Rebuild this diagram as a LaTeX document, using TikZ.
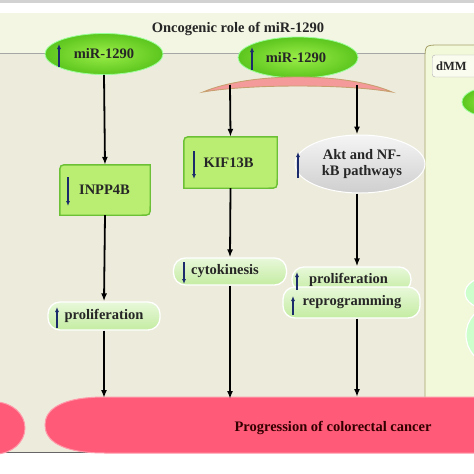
\documentclass[tikz,border=0pt]{standalone}
\usepackage{fontspec}
\setmainfont{Liberation Serif}
\usetikzlibrary{shapes.geometric,arrows.meta,calc}
\definecolor{beige}{HTML}{EDECDC}
\definecolor{headbg}{HTML}{F3F6E3}
\definecolor{rpanel}{HTML}{F2F8DA}
\definecolor{boxgreen}{HTML}{B9EE72}
\definecolor{boxedge}{HTML}{6CC036}
\definecolor{pinkbar}{HTML}{FF5A78}
\definecolor{pinkedge}{HTML}{FF9AAA}
\definecolor{navy}{HTML}{1A2A6A}
\definecolor{pilltop}{HTML}{E8F8DA}
\definecolor{pillbot}{HTML}{C4ECA2}
\definecolor{mirin}{HTML}{9CEE48}
\definecolor{mirout}{HTML}{5CC61E}
\definecolor{arcfill}{HTML}{F59A9A}
\definecolor{arcedge}{HTML}{C8A070}
\pgfdeclarelayer{back}
\pgfdeclarelayer{bg}
\pgfsetlayers{back,bg,main}
\begin{document}
\begin{tikzpicture}[x=1pt,y=-1pt,
  txt/.style={font=\bfseries\fontsize{14.5}{16}\selectfont, text=black!85},
  mirell/.style={ellipse, inner color=mirin, outer color=mirout, draw=white!60!green, line width=0.8pt, minimum width=118pt, minimum height=41pt, txt},
  pill/.style={rectangle, rounded corners=12pt, top color=pilltop, bottom color=pillbot, draw=white, line width=1.3pt, txt, inner sep=0pt},
  grayell/.style={ellipse, top color=gray!8, bottom color=gray!38, draw=white, line width=1pt, minimum width=130pt, minimum height=58pt, txt, align=center, inner sep=0pt},
  flow/.style={-{Latex[length=8pt,width=6pt]}, line width=1.8pt, black},
  updn/.style={-{Latex[length=5pt,width=4pt]}, line width=1.2pt, navy},
  boxfill/.style={fill=boxgreen, draw=boxedge, line width=1.4pt}
]
\useasboundingbox (0,0) rectangle (474,474);
\begin{pgfonlayer}{back}
\fill[white] (0,0) rectangle (474,474);
\fill[gray!35] (0,0) rectangle (474,3);
\fill[headbg] (0,13) rectangle (474,53);
\fill[beige] (0,53) rectangle (426,452);
\draw[gray!70, line width=0.8pt] (0,53) -- (430,53);
\draw[gray!80!black, line width=0.9pt] (0,452) -- (426,452);
\path[fill=rpanel, draw=olive!45!gray!80, line width=0.8pt] (474,45) -- (440,45) .. controls (425,45) .. (425,60) -- (425,452) -- (474,452);
\end{pgfonlayer}
\node[txt] (title) at (238,29) {Oncogenic role of miR-1290};

% right panel partial content
\begin{scope}
\clip (425,0) rectangle (474,474);
\node[draw=gray!60, fill=white!60!rpanel, rounded corners=3pt, minimum height=22pt, minimum width=60pt, anchor=west, inner sep=2pt] (dmm) at (432,66) {};
\node[font=\bfseries\fontsize{12.5}{14}\selectfont, text=black!85, anchor=west, inner sep=0pt] (dmmtxt) at (436,66) {dMM};
\node[mirell, minimum width=60pt, minimum height=30pt] (rell) at (492,102) {};
\node[ellipse, fill=green!20!white, draw=white, line width=1.2pt, minimum width=50pt, minimum height=33pt] (rp1) at (490,293) {};
\node[ellipse, fill=green!20!white, draw=white, line width=1.2pt, minimum width=50pt, minimum height=56pt] (rp2) at (491,335) {};
\end{scope}

% miR ellipses
\node[mirell] (mir1) at (104,54) {\hspace*{0pt}miR-1290};
\node[mirell, minimum width=120pt] (mir2) at (298,57.5) {\hspace*{-4pt}miR-1290};
\draw[updn] (59,67) -- (59,44);
\draw[updn] (252,70) -- (252,47);

% arc bracket
\path[fill=arcfill, draw=arcedge, line width=0.9pt]
  (203,92) .. controls (250,72) and (346,72) .. (392,92)
  .. controls (346,84) and (250,84) .. cycle;
\coordinate (arcL) at (230,85);
\coordinate (arcR) at (357,85);

% boxes
\node[txt, minimum width=90pt, minimum height=50pt] (inpp) at (105,190) {\hspace*{-1pt}INPP4B};
\node[txt, minimum width=93pt, minimum height=51pt] (kif) at (230.5,162.5) {\hspace*{-4pt}KIF13B};
\begin{pgfonlayer}{bg}
\foreach \n in {inpp,kif}{
  \path[boxfill] ($(\n.north west)+(0,9)$) .. controls (\n.north west) .. ($(\n.north west)+(9,0)$)
    -- (\n.north east) -- ($(\n.south east)+(0,-9)$) .. controls (\n.south east) .. ($(\n.south east)+(-9,0)$)
    -- (\n.south west) -- cycle;
}
\end{pgfonlayer}
\draw[updn] (68,177) -- (68,206);
\draw[updn] (194,151) -- (194,179);

% Akt ellipse
\node[grayell] (akt) at (360,164) {\hspace*{4pt}Akt and NF-\\\hspace*{4pt}kB pathways};
\draw[updn] (298,178) -- (298,152);

% pills
\node[pill, minimum width=112pt, minimum height=28pt] (prol1) at (104,316) {\hspace*{0pt}proliferation};
\draw[updn] (57,328) -- (57,307);
\node[pill, minimum width=113pt, minimum height=27pt] (cyto) at (230,271.5) {\hspace*{-10pt}cytokinesis};
\draw[updn] (184,262) -- (184,284);
\node[pill, minimum width=119pt, minimum height=25pt] (prol2) at (351.5,279.5) {\hspace*{-6pt}proliferation};
\node[pill, minimum width=137pt, minimum height=31pt] (repro) at (351.5,302.5) {\hspace*{1pt}reprogramming};
\draw[updn] (297,290) -- (297,272);
\draw[updn] (293,315) -- (293,296);

% bottom pink shapes
\path[fill=pinkbar, draw=pinkedge, line width=1pt] (-5,428) ellipse [x radius=30, y radius=26];
\path[fill=pinkbar, draw=pinkedge, line width=1pt]
  (480,397) -- (105,397) .. controls (60,397) and (45,410) .. (45,425)
  .. controls (45,440) and (60,453) .. (105,453) -- (480,453) -- cycle;
\node[txt, text=black!80!red] (prog) at (333,428) {Progression of colorectal cancer};
\coordinate (bar1) at (104,398);
\coordinate (bar2) at (230,399);
\coordinate (bar3) at (357,397);

% flow arrows
\draw[flow] (mir1.south) -- (inpp.north);
\draw[flow] (inpp.south) -- (prol1.north);
\draw[flow] (prol1.south) -- (bar1);
\draw[flow] (arcL) -- (kif.north);
\draw[flow] (kif.south) -- (cyto.north);
\draw[flow] (cyto.south) -- (bar2);
\draw[flow] (arcR) -- (arcR |- akt.north);
\draw[flow] (arcR |- akt.south) -- (arcR |- prol2.north);
\draw[flow] (arcR |- repro.south) -- (bar3);
\end{tikzpicture}
\end{document}
